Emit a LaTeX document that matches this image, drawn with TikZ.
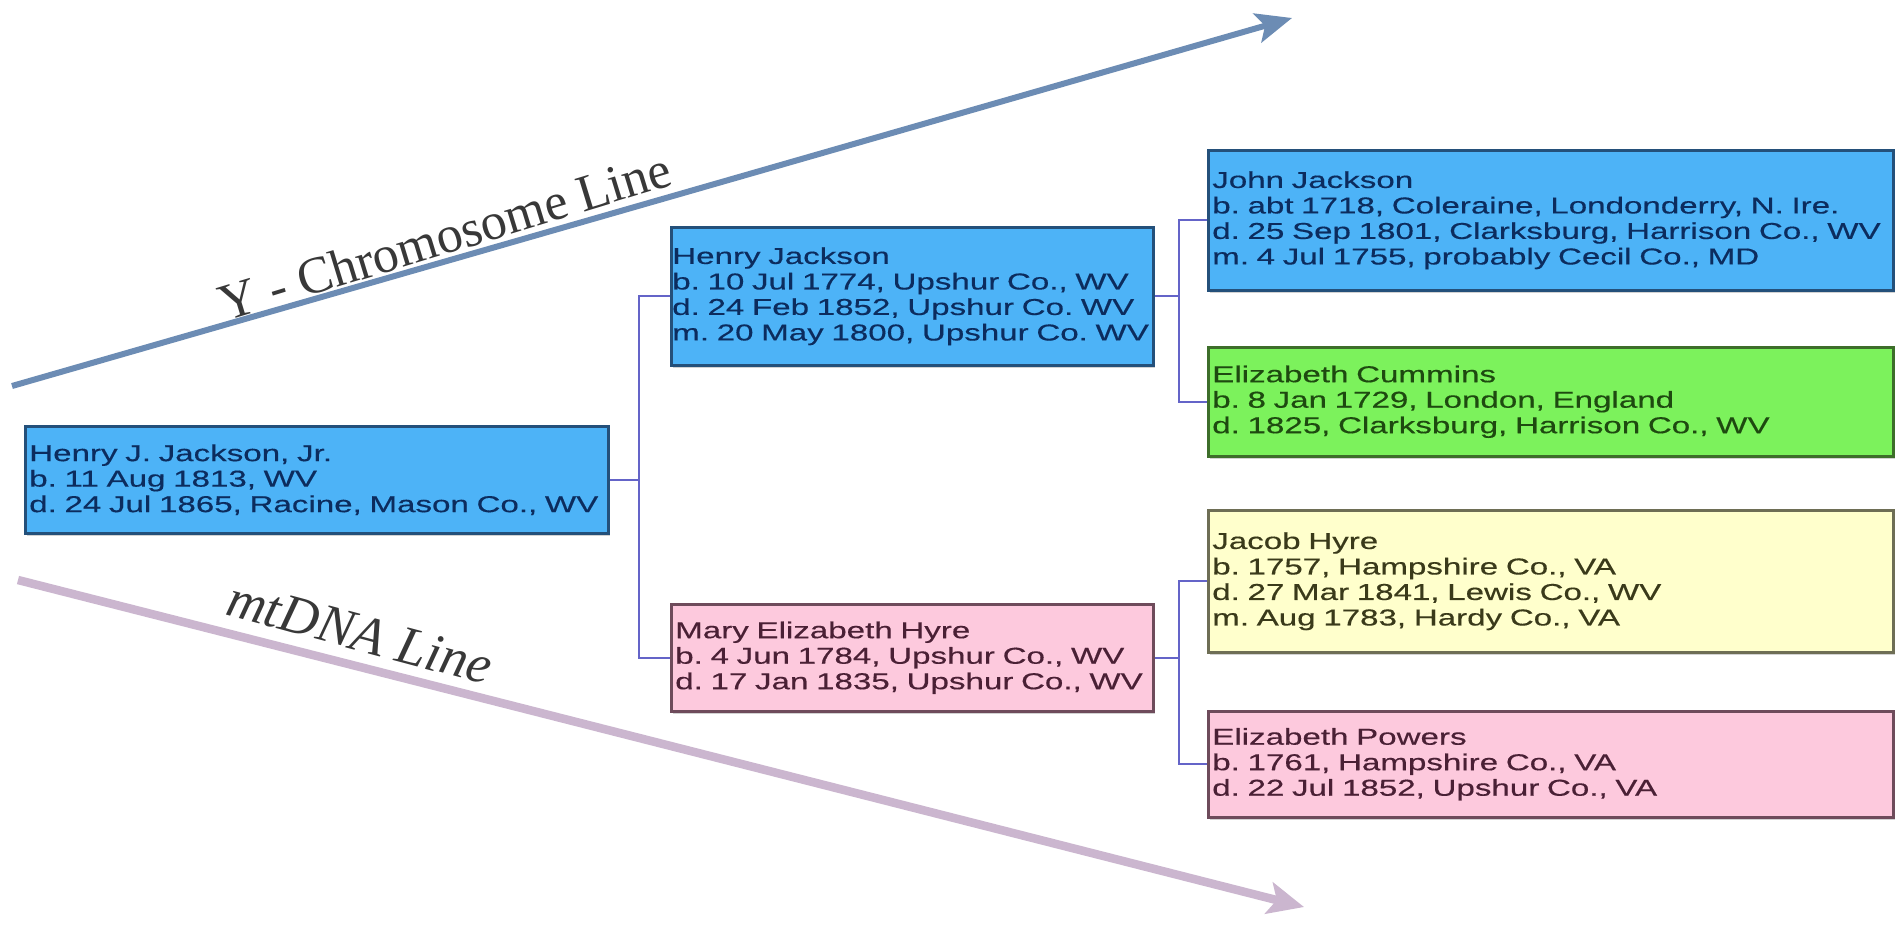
\documentclass[tikz,border=0pt]{standalone}
\usepackage{fontspec}
\usepackage{tikz}
\usetikzlibrary{positioning}
\usetikzlibrary{arrows.meta}
\usetikzlibrary{shadows}
\newfontfamily\boxfont[FakeStretch=1.44,FakeBold=0.4]{Liberation Sans}
\newfontfamily\linefont{Liberation Serif}
\definecolor{bluefill}{HTML}{4DB3F7}
\definecolor{blueline}{HTML}{24507A}
\definecolor{bluetext}{HTML}{0C2C5E}
\definecolor{greenfill}{HTML}{7CF25C}
\definecolor{greenline}{HTML}{3D6E2A}
\definecolor{greentext}{HTML}{1E4A10}
\definecolor{yellowfill}{HTML}{FFFFCC}
\definecolor{yellowline}{HTML}{6E6E55}
\definecolor{yellowtext}{HTML}{3A3A1A}
\definecolor{pinkfill}{HTML}{FDC9DD}
\definecolor{pinkline}{HTML}{6E4B5B}
\definecolor{pinktext}{HTML}{4A2035}
\definecolor{linkcol}{HTML}{6464C8}
\definecolor{ycol}{HTML}{6C8CB4}
\definecolor{mtcol}{HTML}{CBB6CF}
\tikzset{person/.style={draw,line width=2.5pt,anchor=north west,inner xsep=4pt,inner ysep=3pt,
    align=left,font=\boxfont\fontsize{23}{25.5}\selectfont\frenchspacing,
    drop shadow={shadow xshift=1.5pt,shadow yshift=-3pt,opacity=0.35}},
  male/.style={person,fill=bluefill,draw=blueline,text=bluetext},
  female/.style={person,fill=pinkfill,draw=pinkline,text=pinktext},
  green node/.style={person,fill=greenfill,draw=greenline,text=greentext},
  yellow node/.style={person,fill=yellowfill,draw=yellowline,text=yellowtext},
  link/.style={draw=linkcol,line width=1.6pt},
  line label/.style={text=black!78,inner sep=0pt},}

\begin{document}
\begin{tikzpicture}[x=1pt,y=-1pt]
\useasboundingbox[fill=white] (0,0) rectangle (1902,935);

 % the two lines of descent
 \coordinate (ystart) at (12,386);
 \coordinate (yend) at (1292,18);
 \coordinate (mtstart) at (18,580);
 \coordinate (mtend) at (1304,907);
 \draw[ycol,line width=6pt,-{Stealth[length=36pt,width=30pt,inset=8pt]}] (ystart) -- (yend);
 \draw[mtcol,line width=8.5pt,-{Stealth[length=36pt,width=32pt,inset=8pt]}] (mtstart) -- (mtend);
 \node[line label,rotate=17,font=\linefont\fontsize{52}{52}\selectfont] (ylabel) at (445,236) {Y - Chromosome Line};
 \node[line label,rotate=-15,font=\linefont\itshape\fontsize{54}{54}\selectfont] (mtlabel) at (360,633) {mtDNA Line};

 % the people
 \node[male,text width=575pt,minimum height=107pt] (root) at (24,425)
   {Henry J. Jackson, Jr.\\b. 11 Aug 1813, WV\\d. 24 Jul 1865, Racine, Mason Co., WV};
 \node[male,inner xsep=1pt,text width=480pt,minimum height=138pt] (father) at (670,226)
   {Henry Jackson\\b. 10 Jul 1774, Upshur Co., WV\\d. 24 Feb 1852, Upshur Co. WV\\m. 20 May 1800, Upshur Co. WV};
 \node[female,text width=474pt,minimum height=107pt] (mother) at (670,603)
   {Mary Elizabeth Hyre\\b. 4 Jun 1784, Upshur Co., WV\\d. 17 Jan 1835, Upshur Co., WV};
 \node[male,text width=677pt,minimum height=140pt] (ff) at (1207,149)
   {John Jackson\\b. abt 1718, Coleraine, Londonderry, N. Ire.\\d. 25 Sep 1801, Clarksburg, Harrison Co., WV\\m. 4 Jul 1755, probably Cecil Co., MD};
 \node[green node,text width=677pt,minimum height=109pt] (fm) at (1207,346)
   {Elizabeth Cummins\\b. 8 Jan 1729, London, England\\d. 1825, Clarksburg, Harrison Co., WV};
 \node[yellow node,text width=677pt,minimum height=142pt] (mf) at (1207,509)
   {Jacob Hyre\\b. 1757, Hampshire Co., VA\\d. 27 Mar 1841, Lewis Co., WV\\m. Aug 1783, Hardy Co., VA};
 \node[female,text width=677pt,minimum height=106pt] (mm) at (1207,710)
   {Elizabeth Powers\\b. 1761, Hampshire Co., VA\\d. 22 Jul 1852, Upshur Co., VA};

 % connectors
 \path[link] (father.west) -- +(-31,0) |- (root.east);
 \path[link] (mother.west) -- +(-31,0) |- (root.east);
 \path[link] (ff.west) -- +(-28,0) |- (father.east);
 \path[link] (fm.west) -- +(-28,0) |- (father.east);
 \path[link] (mf.west) -- +(-28,0) |- (mother.east);
 \path[link] (mm.west) -- +(-28,0) |- (mother.east);
\end{tikzpicture}
\end{document}
